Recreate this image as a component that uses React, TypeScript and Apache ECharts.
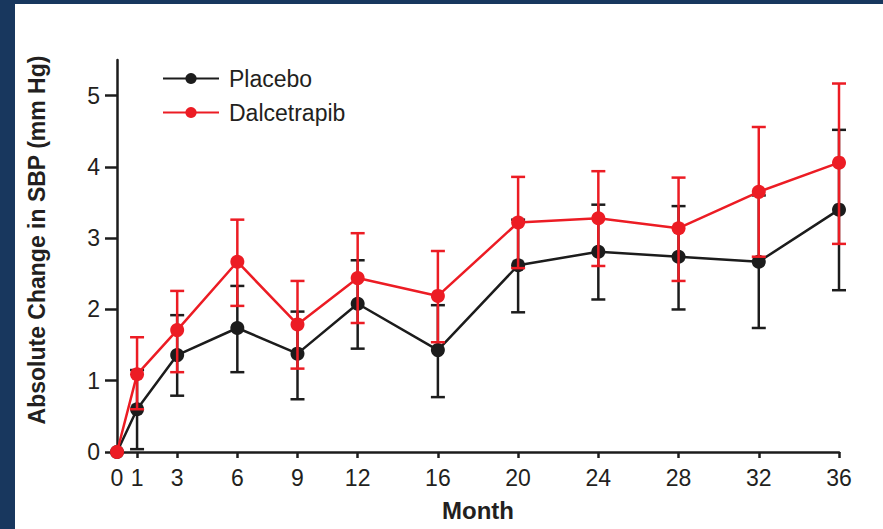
import React, { useEffect, useRef } from "react";
import * as echarts from "echarts";

const months = [0, 1, 3, 6, 9, 12, 16, 20, 24, 28, 32, 36];
const yTicks = [0, 1, 2, 3, 4, 5];
const placebo = [0, 0.6, 1.36, 1.74, 1.38, 2.08, 1.43, 2.62, 2.81, 2.74, 2.67, 3.4];
const placeboLow = [0, 0.04, 0.79, 1.12, 0.74, 1.45, 0.77, 1.96, 2.14, 2.0, 1.74, 2.27];
const placeboHigh = [0, 1.15, 1.92, 2.33, 1.97, 2.69, 2.06, 3.26, 3.47, 3.45, 3.6, 4.52];
const dalcetrapib = [0, 1.09, 1.71, 2.67, 1.79, 2.44, 2.19, 3.22, 3.28, 3.14, 3.65, 4.06];
const dalcetrapibLow = [0, 0.6, 1.12, 2.05, 1.17, 1.81, 1.54, 2.58, 2.61, 2.4, 2.74, 2.92];
const dalcetrapibHigh = [0, 1.61, 2.26, 3.26, 2.4, 3.07, 2.82, 3.86, 3.94, 3.85, 4.56, 5.17];

const BLACK = "#1c1c1c";
const RED = "#ec1c24";
const TEXT = "#231f20";
const NAVY = "#18375e";
const FONT = '"Liberation Sans", Arial, Helvetica, sans-serif';

function errorSeries(name: string, low: number[], high: number[], color: string, z: number) {
  return {
    type: "custom",
    name,
    z,
    silent: true,
    data: months.map((m, i) => [m, low[i], high[i]]),
    renderItem: (params: any, api: any) => {
      const x = api.value(0);
      const lo = api.value(1);
      const hi = api.value(2);
      if (lo === hi) return { type: "group", children: [] };
      const pLo = api.coord([x, lo]);
      const pHi = api.coord([x, hi]);
      const hw = 7;
      const style = { stroke: color, lineWidth: 2.5 };
      return {
        type: "group",
        children: [
          { type: "line", shape: { x1: pLo[0], y1: pLo[1], x2: pHi[0], y2: pHi[1] }, style },
          { type: "line", shape: { x1: pLo[0] - hw, y1: pLo[1], x2: pLo[0] + hw, y2: pLo[1] }, style },
          { type: "line", shape: { x1: pHi[0] - hw, y1: pHi[1], x2: pHi[0] + hw, y2: pHi[1] }, style },
        ],
      };
    },
  };
}

export default function App() {
  const ref = useRef<HTMLDivElement>(null);
  useEffect(() => {
    if (!ref.current) return;
    const chart = echarts.init(ref.current, null, { renderer: "svg" });
    chart.setOption({
      animation: false,
      backgroundColor: "#ffffff",
      grid: { left: 117, right: 44, top: 60, bottom: 77, containLabel: false, outerBoundsMode: "none" },
      legend: {
        data: ["Placebo", "Dalcetrapib"],
        orient: "vertical",
        left: 157,
        top: 62,
        itemWidth: 56,
        itemHeight: 14,
        itemGap: 11,
        textStyle: { fontFamily: FONT, fontSize: 23, color: TEXT, padding: [0, 0, 0, 5] },
      },
      xAxis: {
        type: "value",
        min: 0,
        max: 36,
        name: "Month",
        nameLocation: "middle",
        nameGap: 46,
        nameTextStyle: { fontFamily: FONT, fontSize: 24, fontWeight: "bold", color: TEXT },
        splitLine: { show: false },
        axisLine: { lineStyle: { color: BLACK, width: 2.5 } },
        axisTick: { customValues: months, length: 6, lineStyle: { color: BLACK, width: 2.5 } },
        axisLabel: { customValues: months, margin: 14, fontFamily: FONT, fontSize: 23, color: TEXT },
      },
      yAxis: {
        type: "value",
        min: 0,
        max: 5.5,
        splitLine: { show: false },
        axisLine: { show: true, lineStyle: { color: BLACK, width: 2.5 } },
        axisTick: { show: true, customValues: yTicks, length: 12, lineStyle: { color: BLACK, width: 2.5 } },
        axisLabel: { customValues: yTicks, margin: 17, fontFamily: FONT, fontSize: 23, color: TEXT },
      },
      graphic: [
        { type: "rect", shape: { x: 0, y: 0, width: 883, height: 4 }, style: { fill: NAVY }, z: 100 },
        { type: "rect", shape: { x: 0, y: 0, width: 15, height: 529 }, style: { fill: NAVY }, z: 100 },
        {
          type: "text",
          x: 37,
          y: 240,
          rotation: Math.PI / 2,
          style: {
            text: "Absolute Change in SBP (mm Hg)",
            font: `bold 23px ${FONT}`,
            fill: TEXT,
            align: "center",
            verticalAlign: "middle",
            textAlign: "center",
            textVerticalAlign: "middle",
          },
        },
      ],
      series: [
        errorSeries("Placebo SD", placeboLow, placeboHigh, BLACK, 2),
        {
          type: "line",
          name: "Placebo",
          z: 3,
          data: months.map((m, i) => [m, placebo[i]]),
          symbol: "circle",
          symbolSize: 14,
          lineStyle: { color: BLACK, width: 2.5 },
          itemStyle: { color: BLACK },
        },
        errorSeries("Dalcetrapib SD", dalcetrapibLow, dalcetrapibHigh, RED, 4),
        {
          type: "line",
          name: "Dalcetrapib",
          z: 5,
          data: months.map((m, i) => [m, dalcetrapib[i]]),
          symbol: "circle",
          symbolSize: 14,
          lineStyle: { color: RED, width: 2.5 },
          itemStyle: { color: RED },
        },
      ],
    });
    return () => chart.dispose();
  }, []);
  return (
    <div
      ref={ref}
      style={{ position: "fixed", left: 0, top: 0, width: 883, height: 529 }}
    />
  );
}
